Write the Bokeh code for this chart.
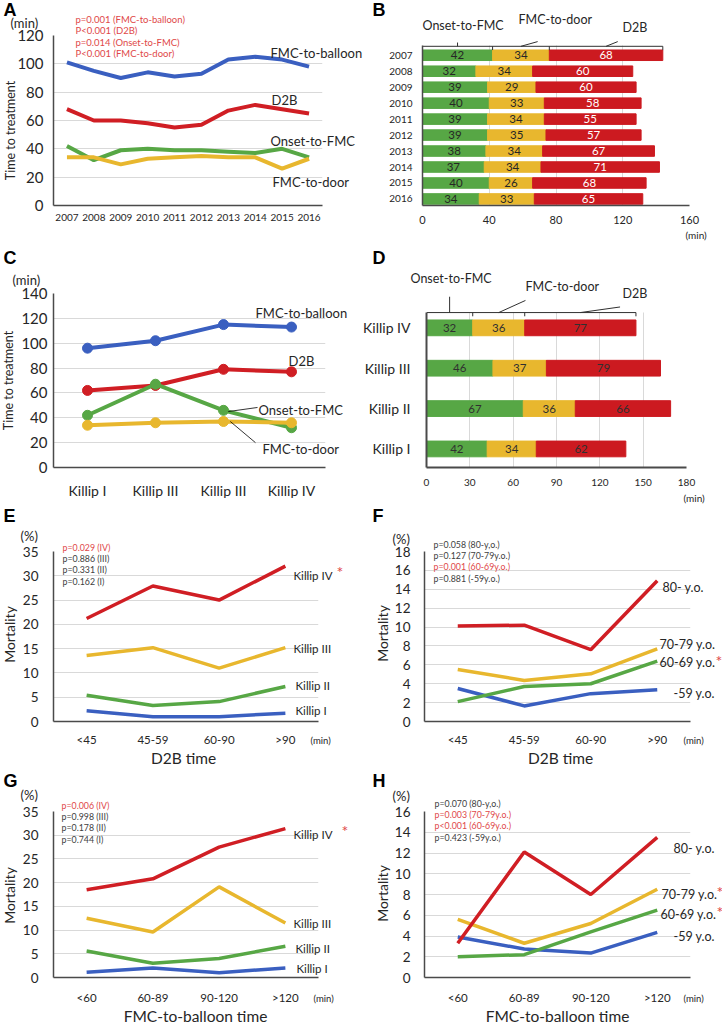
import numpy as np
from bokeh.plotting import figure
from bokeh.layouts import column, row
from bokeh.models import Range1d, Label, FixedTicker, GridBox
from bokeh.core.properties import value
from bokeh.embed import file_html
from bokeh.resources import INLINE

# ---------------- data ----------------
years = ["2007", "2008", "2009", "2010", "2011", "2012", "2013", "2014", "2015", "2016"]
fmc_to_balloon_year = [101, 95, 90, 94, 91, 93, 103, 105, 103, 98]
d2b_year = [68, 60, 60, 58, 55, 57, 67, 71, 68, 65]
onset_to_fmc_year = [42, 32, 39, 40, 39, 39, 38, 37, 40, 34]
fmc_to_door_year = [34, 34, 29, 33, 34, 35, 34, 34, 26, 33]
pvals_a = ["p=0.001 (FMC-to-balloon)", "P<0.001 (D2B)", "p=0.014 (Onset-to-FMC)", "P<0.001 (FMC-to-door)"]

killip_c_labels = ["Killip I", "Killip III", "Killip III", "Killip IV"]
killip_d_labels = ["Killip I", "Killip II", "Killip III", "Killip IV"]
fmc_to_balloon_killip = [96, 102, 115, 113]
d2b_killip = [62, 66, 79, 77]
onset_to_fmc_killip = [42, 67, 46, 32]
fmc_to_door_killip = [34, 36, 37, 36]

d2b_cats = ["<45", "45-59", "60-90", ">90"]
e_killip4 = [21.2, 27.9, 25.0, 32.0]
e_killip3 = [13.6, 15.2, 11.0, 15.2]
e_killip2 = [5.4, 3.3, 4.1, 7.2]
e_killip1 = [2.2, 1.0, 1.0, 1.7]
pvals_e = ["p=0.029 (IV)", "p=0.886 (III)", "p=0.331 (II)", "p=0.162 (I)"]
sig_e = [True, False, False, False]

f_80 = [10.1, 10.2, 7.6, 14.9]
f_70 = [5.5, 4.35, 5.05, 7.7]
f_60 = [2.1, 3.7, 4.0, 6.4]
f_59 = [3.5, 1.65, 2.95, 3.35]
pvals_f = ["p=0.058 (80-y,o.)", "p=0.127 (70-79y.o.)", "p=0.001 (60-69y.o.)", "p=0.881 (-59y.o.)"]
sig_f = [False, False, True, False]

fb_cats = ["<60", "60-89", "90-120", ">120"]
g_killip4 = [18.5, 20.8, 27.5, 31.4]
g_killip3 = [12.5, 9.6, 19.1, 11.5]
g_killip2 = [5.6, 3.0, 4.0, 6.6]
g_killip1 = [1.1, 2.0, 1.0, 2.0]
pvals_g = ["p=0.006 (IV)", "p=0.998 (III)", "p=0.178 (II)", "p=0.744 (I)"]
sig_g = [True, False, False, False]

h_80 = [3.3, 12.1, 8.0, 13.5]
h_70 = [5.6, 3.3, 5.2, 8.5]
h_60 = [2.0, 2.2, 4.4, 6.5]
h_59 = [3.9, 2.75, 2.35, 4.35]
pvals_h = ["p=0.070 (80-y,o.)", "p=0.003 (70-79y.o.)", "p<0.001 (60-69y.o.)", "p=0.423 (-59y.o.)"]
sig_h = [False, True, True, False]

# ---------------- style ----------------
BLUE = "#3A5FC0"
RED = "#D01E24"
BARRED = "#CC1A20"
YELLOW = "#E8B72E"
GREEN = "#57A745"
GRID = "#D9D9D9"
AXIS = "#4A4A4A"
TXT = "#262626"
PRED = "#E04848"
PGRAY = "#404040"
FONT = "Lato"

COLX = [0, 360]
COLW = [360, 362]
ROWY = [0, 245, 505, 770]
ROWH = [245, 260, 265, 256]


def make_panel(col, rw, ref_frame, xr, yr, frame_top=None):
    rx0, rx1, ry0, ry1 = ref_frame
    w, h = COLW[col], ROWH[rw]
    lx0, lx1 = rx0 - COLX[col], rx1 - COLX[col]
    ly0, ly1 = ry0 - ROWY[rw], ry1 - ROWY[rw]
    y_hi = yr[1]
    if frame_top is not None:
        # extend the frame upward (room for bracket leaders), keeping the scale
        y_hi = yr[1] + (ry0 - frame_top) / (ry1 - ry0) * (yr[1] - yr[0])
        ly0 = frame_top - ROWY[rw]
    p = figure(width=w, height=h, x_range=Range1d(*xr), y_range=Range1d(yr[0], y_hi),
               min_border_left=lx0, min_border_right=w - lx1,
               min_border_top=ly0, min_border_bottom=h - ly1,
               output_backend="svg", toolbar_location=None, tools="", title=None)
    p.outline_line_color = None
    p.background_fill_color = "white"
    p.border_fill_color = "white"
    return p


def style_axes(p, xticks, xlabels, xfont, xstand, yticks, ylabels, yfont, ystand,
               xgrid=False, ygrid=True, axis_w=1.5):
    for ax, ticks, labels, fs, st in ((p.xaxis[0], xticks, xlabels, xfont, xstand),
                                      (p.yaxis[0], yticks, ylabels, yfont, ystand)):
        ax.ticker = FixedTicker(ticks=list(ticks))
        if labels is not None:
            ax.major_label_overrides = {t: l for t, l in zip(ticks, labels)}
        ax.major_tick_line_color = None
        ax.minor_tick_line_color = None
        ax.major_tick_out = 0
        ax.major_tick_in = 0
        ax.axis_line_color = AXIS
        ax.axis_line_width = axis_w
        ax.major_label_text_font = FONT
        ax.major_label_text_font_size = fs
        ax.major_label_text_color = TXT
        ax.major_label_standoff = st
    p.xgrid.grid_line_color = GRID if xgrid else None
    p.ygrid.grid_line_color = GRID if ygrid else None
    p.xgrid.ticker = FixedTicker(ticks=list(xticks))
    p.ygrid.ticker = FixedTicker(ticks=list(yticks))


# overlay figure holding the texts that sit outside the plot frames
TOTW, TOTH = sum(COLW), sum(ROWH)
ov = figure(width=TOTW, height=TOTH, x_range=Range1d(0, TOTW),
            y_range=Range1d(TOTH, 0), min_border=0,
            x_axis_location=None, y_axis_location=None,
            output_backend="svg", toolbar_location=None, tools="", title=None)
ov.background_fill_color = None
ov.border_fill_color = None
ov.outline_line_color = None
ov.xgrid.visible = False
ov.ygrid.visible = False


def lab(x, y, text, size, color=TXT, align="left", angle=0.0, font=FONT, style="normal"):
    ov.add_layout(Label(x=x, y=y, text=text, text_font=font, text_font_size=size,
                        text_color=color, text_align=align, text_baseline="middle",
                        angle=angle, text_font_style=style))


def letter(x, y, t):
    lab(x, y, t, "18px", color="black", font="Liberation Sans", style="bold")


# ---------------- Panel A ----------------
pA = make_panel(0, 0, (53, 322, 35, 207), (-0.5, 9.5), (0, 120))
xi = list(range(len(years)))
style_axes(pA, xi, years, "10px", 8, range(0, 121, 20), None, "15px", 10)
pA.line(xi, fmc_to_balloon_year, line_width=4, color=BLUE)
pA.line(xi, d2b_year, line_width=4, color=RED)
pA.line(xi, onset_to_fmc_year, line_width=4, color=GREEN)
pA.line(xi, fmc_to_door_year, line_width=4, color=YELLOW)
letter(3, 9, "A")
lab(10, 22, "(min)", "13px")
lab(10, 130, "Time to treatment", "12.5px", align="center", angle=np.pi / 2)
for i, t in enumerate(pvals_a):
    lab(75, 19 + i * 11.4, t, "9.5px", color=PRED)
lab(270, 52, "FMC-to-balloon", "13px")
lab(271, 99, "D2B", "13px")
lab(270, 140, "Onset-to-FMC", "13px")
lab(272, 181, "FMC-to-door", "13px")

# ---------------- Panel B ----------------
b_vis = (-0.41, 9.59)
pB = make_panel(1, 0, (422, 689, 35, 205), (0, 160), b_vis, frame_top=24)
ypos_b = [len(years) - 1 - i for i in range(len(years))]
style_axes(pB, range(0, 161, 40), None, "11px", 10, ypos_b, years, "10px", 10,
           xgrid=True, ygrid=False)
pB.yaxis.bounds = b_vis
try:
    pB.xgrid.cross_bounds = b_vis
except Exception:
    pass
on_b = np.array(onset_to_fmc_year, dtype=float)
door_b = np.array(fmc_to_door_year, dtype=float)
d2b_b = np.array(d2b_year, dtype=float)
pB.hbar(y=ypos_b, left=0, right=on_b, height=0.66, color=GREEN)
pB.hbar(y=ypos_b, left=on_b, right=on_b + door_b, height=0.66, color=YELLOW)
pB.hbar(y=ypos_b, left=on_b + door_b, right=on_b + door_b + d2b_b, height=0.66, color=BARRED)
for arr, left, col in ((on_b, 0 * on_b, TXT), (door_b, on_b, TXT), (d2b_b, on_b + door_b, "white")):
    pB.text(x=left + arr / 2, y=ypos_b, text=[str(int(v)) for v in arr],
            text_align="center", text_baseline="middle", text_font=value(FONT),
            text_font_size="11.5px", text_color=col)
# bracket above the 2007 bar, with leaders to the labels
px_b = 17.0  # px per row unit
yb = b_vis[1] - 0.5 / px_b
yt = yb - 4 / px_b
e0 = [0.0, on_b[0], on_b[0] + door_b[0], on_b[0] + door_b[0] + d2b_b[0]]
mids = [(e0[i] + e0[i + 1]) / 2 for i in range(3)]
pB.segment(x0=[e0[0]] + e0[1:] + mids,
           y0=[yb] + [yb] * 3 + [yb] * 3,
           x1=[e0[3]] + e0[1:] + [mids[0], mids[1] + 10, mids[2] + 7],
           y1=[yb] + [yt] * 3 + [yb + 4 / px_b, yb + 5 / px_b, yb + 5 / px_b],
           line_color="#303030", line_width=1)
letter(372, 9, "B")
lab(685, 234, "(min)", "10px")
lab(422, 25, "Onset-to-FMC", "12.5px")
lab(518, 19, "FMC-to-door", "12.5px")
lab(622, 27, "D2B", "12.5px")

# ---------------- Panel C ----------------
pC = make_panel(0, 1, (53, 325, 293, 467), (-0.5, 3.5), (0, 140))
xc = list(range(4))
style_axes(pC, xc, killip_c_labels, "14px", 14, range(0, 141, 20), None, "15px", 6)
for vals, colr in ((fmc_to_balloon_killip, BLUE), (d2b_killip, RED),
                   (onset_to_fmc_killip, GREEN), (fmc_to_door_killip, YELLOW)):
    pC.line(xc, vals, line_width=4, color=colr)
    pC.scatter(xc, vals, size=10, color=colr)
pC.segment(x0=[2.07, 2.1], y0=[onset_to_fmc_killip[2] - 1, fmc_to_door_killip[2]],
           x1=[2.5, 2.47], y1=[onset_to_fmc_killip[2] + 2.3, fmc_to_door_killip[2] - 17],
           line_color="black", line_width=0.8)
letter(3, 257, "C")
lab(12, 279, "(min)", "13px")
lab(8, 380, "Time to treatment", "12.5px", align="center", angle=np.pi / 2)
lab(255, 312, "FMC-to-balloon", "13px")
lab(288, 360, "D2B", "13px")
lab(258, 409, "Onset-to-FMC", "13px")
lab(262, 448, "FMC-to-door", "13px")

# ---------------- Panel D ----------------
d_vis = (-0.46, 3.39)
pD = make_panel(1, 1, (423, 686, 301, 468), (0, 180), d_vis, frame_top=281)
yd = list(range(4))
style_axes(pD, range(0, 181, 30), None, "10px", 11, yd, killip_d_labels, "14px", 16,
           xgrid=True, ygrid=False, axis_w=2)
pD.yaxis.bounds = d_vis
try:
    pD.xgrid.cross_bounds = d_vis
except Exception:
    pass
on_d = np.array(onset_to_fmc_killip, dtype=float)
door_d = np.array(fmc_to_door_killip, dtype=float)
d2b_d = np.array(d2b_killip, dtype=float)
pD.hbar(y=yd, left=0, right=on_d, height=0.39, color=GREEN)
pD.hbar(y=yd, left=on_d, right=on_d + door_d, height=0.39, color=YELLOW)
pD.hbar(y=yd, left=on_d + door_d, right=on_d + door_d + d2b_d, height=0.39, color=BARRED)
for arr, left in ((on_d, 0 * on_d), (door_d, on_d), (d2b_d, on_d + door_d)):
    pD.text(x=left + arr / 2, y=yd, text=[str(int(v)) for v in arr],
            text_align="center", text_baseline="middle", text_font=value(FONT),
            text_font_size="11.5px", text_color="#303030")
px_d = 43.3
yb = d_vis[1] - 0.5 / px_d
yt = yb - 4 / px_d
e3 = [0.0, on_d[3], on_d[3] + door_d[3], on_d[3] + door_d[3] + d2b_d[3]]
mids = [(e3[i] + e3[i + 1]) / 2 for i in range(3)]
pD.segment(x0=[e3[0]] + e3[1:] + mids,
           y0=[yb] + [yb] * 3 + [yb] * 3,
           x1=[e3[3]] + e3[1:] + [mids[0], mids[1] + 18.5, mids[2] + 27.5],
           y1=[yb] + [yt] * 3 + [yb + 17 / px_d, yb + 13 / px_d, yb + 6 / px_d],
           line_color="#303030", line_width=1)
letter(372, 257, "D")
lab(683, 497, "(min)", "10px")
lab(410, 278, "Onset-to-FMC", "12.5px")
lab(525, 286, "FMC-to-door", "12.5px")
lab(622, 293, "D2B", "12.5px")


# ---------------- Panels E-H ----------------
def mort_panel(col, rw, ref_frame, ymax, ystep, cats, series, pvals, sig,
               p_xy, letter_xy, t, pct_xy, ylab_xy, xtitle, xtitle_xy, min_xy,
               labels, stars, xstand, ystand):
    p = make_panel(col, rw, ref_frame, (-0.5, 3.5), (0, ymax))
    xx = list(range(len(cats)))
    style_axes(p, xx, cats, "11.5px", xstand, np.arange(0, ymax + 0.01, ystep).tolist(), None,
               "13.5px", ystand)
    for vals, colr in series:
        p.line(xx, vals, line_width=3.5, color=colr)
    letter(letter_xy[0], letter_xy[1], t)
    lab(pct_xy[0], pct_xy[1], "(%)", "13px")
    lab(ylab_xy[0], ylab_xy[1], "Mortality", "14px", align="center", angle=np.pi / 2)
    for i, (txt, s) in enumerate(zip(pvals, sig)):
        lab(p_xy[0], p_xy[1] + i * 11.2, txt, "8.8px", color=PRED if s else PGRAY)
    lab(xtitle_xy[0], xtitle_xy[1], xtitle, "15.5px", align="center")
    lab(min_xy[0], min_xy[1], "(min)", "9.5px")
    for (x, y, txt, fs) in labels:
        lab(x, y, txt, fs)
    for (x, y) in stars:
        lab(x, y, "*", "16px", color=PRED)
    return p


pE = mort_panel(0, 2, (53, 318, 551, 721), 35, 5, d2b_cats,
                [(e_killip1, BLUE), (e_killip2, GREEN), (e_killip3, YELLOW), (e_killip4, RED)],
                pvals_e, sig_e, (62, 547), (3, 515), "E", (20, 535), (9, 634),
                "D2B time", (183, 757), (310, 740),
                [(293, 575, "Killip IV", "11.5px"), (293, 648, "Killip III", "11.5px"),
                 (295, 685, "Killip II", "11.5px"), (295, 710, "Killip I", "11.5px")],
                [(336, 571)], 11, 15)

pF = mort_panel(1, 2, (424, 690, 551, 721), 18, 2, d2b_cats,
                [(f_59, BLUE), (f_60, GREEN), (f_70, YELLOW), (f_80, RED)],
                pvals_f, sig_f, (433, 544), (372, 515), "F", (392, 538), (382, 633),
                "D2B time", (560, 757), (683, 740),
                [(662, 587, "80- y.o.", "12.5px"), (659, 644, "70-79 y.o.", "12.5px"),
                 (659, 662, "60-69 y.o.", "12.5px"), (673, 693, "-59 y.o.", "12.5px")],
                [(715, 660)], 11, 14)

pG = mort_panel(0, 3, (53, 318, 811, 977), 35, 5, fb_cats,
                [(g_killip1, BLUE), (g_killip2, GREEN), (g_killip3, YELLOW), (g_killip4, RED)],
                pvals_g, sig_g, (61, 805), (3, 780), "G", (20, 794), (9, 895),
                "FMC-to-balloon time", (195, 1015), (313, 998),
                [(293, 834, "Killip IV", "11.5px"), (293, 923, "Killip III", "11.5px"),
                 (295, 948, "Killip II", "11.5px"), (296, 968, "Killip I", "11.5px")],
                [(341, 830)], 13, 15)

pH = mort_panel(1, 3, (424, 690, 809, 978), 16, 2, fb_cats,
                [(h_59, BLUE), (h_60, GREEN), (h_70, YELLOW), (h_80, RED)],
                pvals_h, sig_h, (434, 803), (372, 780), "H", (392, 795), (382, 893),
                "FMC-to-balloon time", (557, 1015), (683, 998),
                [(673, 848, "80- y.o.", "12.5px"), (661, 894, "70-79 y.o.", "12.5px"),
                 (660, 914, "60-69 y.o.", "12.5px"), (673, 936, "-59 y.o.", "12.5px")],
                [(716, 891), (716, 911)], 13, 14)

panels = column(row(pA, pB), row(pC, pD), row(pE, pF), row(pG, pH))
layout = GridBox(children=[(panels, 0, 0), (ov, 0, 0)], spacing=0)
open("out.html", "w").write(file_html(layout, INLINE))
